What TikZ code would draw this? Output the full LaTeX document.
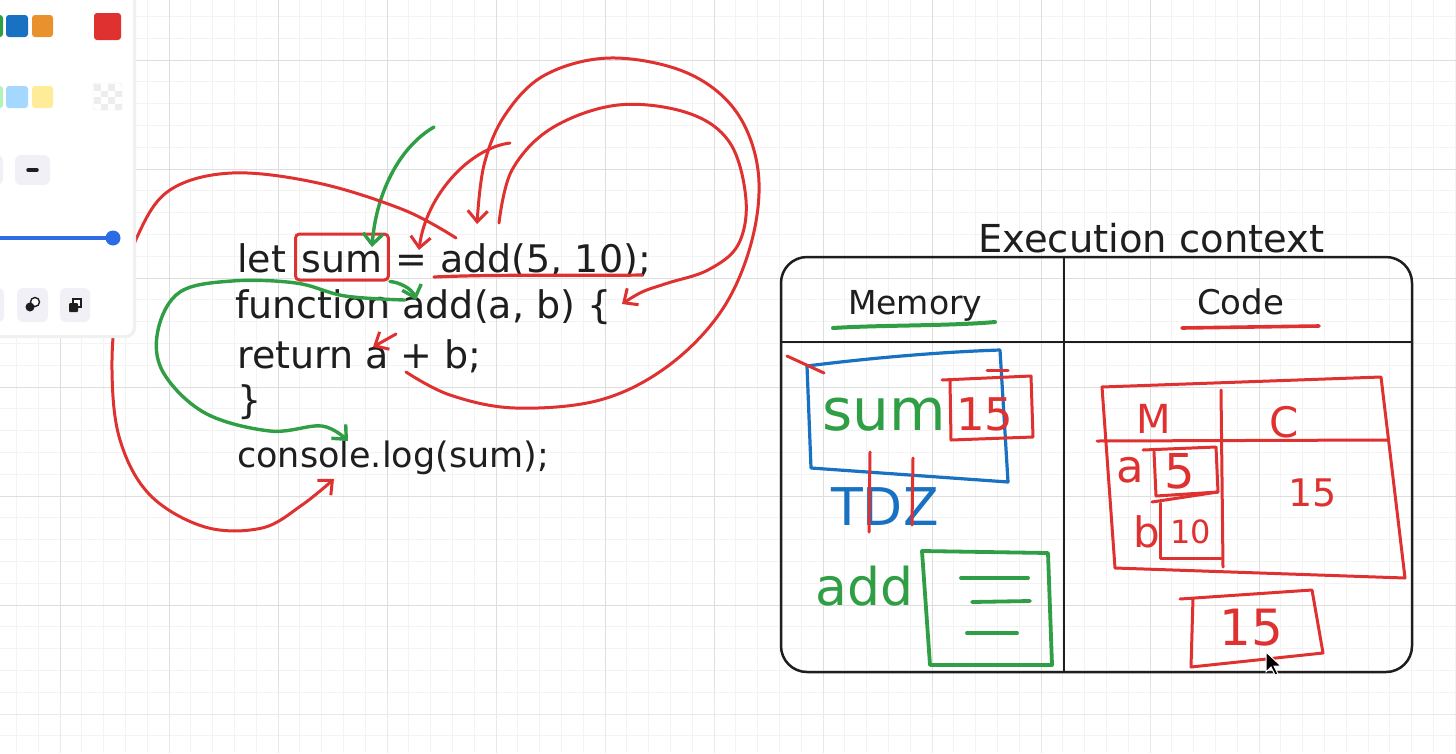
\documentclass[tikz,border=0pt]{standalone}
\usepackage{fontspec}
\setmainfont{DejaVu Sans}
\usetikzlibrary{arrows.meta,positioning}

\definecolor{exred}{HTML}{E03131}
\definecolor{exgreen}{HTML}{2F9E44}
\definecolor{exblue}{HTML}{1971C2}
\definecolor{ink}{HTML}{1E1E1E}
\definecolor{gridmajor}{HTML}{DEDEDE}
\definecolor{gridminor}{HTML}{F3F3F3}
\definecolor{btnbg}{HTML}{F1F0F6}
\definecolor{slider}{HTML}{2B6CE4}
\definecolor{sworange}{HTML}{E8912D}
\definecolor{swlgreen}{HTML}{B2F2BB}
\definecolor{swlblue}{HTML}{A5D8FF}
\definecolor{swlyellow}{HTML}{FFEC99}
\newcommand{\fsz}[1]{\fontsize{#1}{#1}\selectfont}

\begin{document}
\begin{tikzpicture}[x=1pt, y=-1pt,
    codeline/.style={anchor=base west, inner sep=0pt, text=ink, font=\fsz{38}},
    scrawl/.style={anchor=base west, inner sep=0pt},
    redpen/.style={draw=exred, line width=3pt, line cap=round, line join=round},
    grnpen/.style={draw=exgreen, line width=3.4pt, line cap=round, line join=round},
    blupen/.style={draw=exblue, line width=3.2pt, line cap=round, line join=round},
    headed/.style={-{Straight Barb[length=11pt,width=20pt]}},
    swatch/.style={rounded corners=3pt},
    btn/.style={fill=btnbg, rounded corners=6pt}]

  \useasboundingbox (0,0) rectangle (1456,753);
  \fill[white] (0,0) rectangle (1456,753);
  \foreach \k in {0,...,69}
    \draw[gridminor, line width=0.8pt] ({-49+21.8*\k},0) -- ({-49+21.8*\k},753);
  \foreach \k in {0,...,37}
    \draw[gridminor, line width=0.8pt] (0,{-49+21.8*\k}) -- (1456,{-49+21.8*\k});
  \foreach \k in {1,...,12}
    \draw[gridmajor, line width=1pt] ({-49+109*\k},0) -- ({-49+109*\k},753);
  \foreach \k in {1,...,7}
    \draw[gridmajor, line width=1pt] (0,{-49+109*\k}) -- (1456,{-49+109*\k});

  % the code
  \node[codeline] (let1) at (237,272) {let};
  \node[codeline, draw=exred, line width=3pt, rounded corners=4pt, inner xsep=6pt,
        inner ysep=8pt, text height=30pt, text depth=0pt] (sumvar) at (294,272) {sum};
  \node[codeline] (eq1) at (395,272) {=};
  \node[codeline] (call1) at (440,272) {add(5, 10);};
  \node[codeline] (fnline) at (235,318) {function add(a, b) \{};
  \node[codeline] (retline) at (237,368) {return a + b;};
  \node[codeline] (closebr) at (237,413) {\}};
  \node[codeline, font=\fsz{35}] (logline) at (237,467) {console.log(sum);};
  \draw[redpen, line width=3.2pt] (434,277) .. controls (500,274) and (580,276) .. (642,275);

  \coordinate (gTop) at (434,127);
  \coordinate (sumHit) at (372,247);
  \coordinate (rTop) at (510,143);
  \coordinate (eqHit) at (419,250);
  \coordinate (retFrom) at (406,372);
  \coordinate (callHit) at (477,224);
  \coordinate (callFrom) at (499,223);
  \coordinate (braceHit) at (622,304);
  \coordinate (callLeft) at (456,238);
  \coordinate (logHit) at (334,479);
  \coordinate (addHit) at (416,300);
  \coordinate (loopFrom) at (405,300);
  \coordinate (logTop) at (348,441);
  \coordinate (aFrom) at (396,334);
  \coordinate (aHit) at (373,347);

  \draw[grnpen, headed] (gTop) .. controls (398,148) and (376,195) .. (sumHit);
  \draw[redpen, headed] (rTop) .. controls (470,148) and (426,195) .. (eqHit);
  \draw[redpen, headed] plot[smooth, tension=0.6] coordinates {(retFrom) (450,395) (515,408)
    (600,400) (668,366) (722,310) (752,240) (758,170) (735,110) (685,72) (610,58) (545,75)
    (505,115) (484,165) (callHit)};
  \draw[redpen, headed] plot[smooth, tension=0.6] coordinates {(callFrom) (512,170) (552,128)
    (618,105) (688,113) (730,143) (746,200) (738,245) (708,270) (668,283) (642,292) (braceHit)};
  \draw[redpen, headed] plot[smooth, tension=0.6] coordinates {(callLeft) (404,210) (318,183)
    (232,173) (170,190) (138,235) (118,300) (112,370) (120,440) (150,495) (205,527) (262,528)
    (302,505) (logHit)};
  \draw[grnpen, headed] (sumvar.south east) .. controls (398,282) and (412,288) .. (addHit);
  \draw[grnpen, headed] plot[smooth, tension=0.6] coordinates {(loopFrom) (345,296) (296,283)
    (232,281) (180,292) (158,330) (163,372) (205,413) (270,431) (322,426) (logTop)};
  \draw[redpen, headed] (aFrom) -- (aHit);

  % tool panel
  \fill[black!6, rounded corners=10pt] (-20,-20) rectangle (136,338);
  \fill[white, rounded corners=8pt] (-20,-20) rectangle (133,335);
  \fill[exgreen, swatch] (-20,15) rectangle (3,37);
  \fill[exblue, swatch] (6,15) rectangle (28,37);
  \fill[sworange, swatch] (32,15) rectangle (53,37);
  \fill[exred, swatch] (94,13) rectangle (121,40);
  \fill[swlgreen, swatch] (-20,86) rectangle (3,108);
  \fill[swlblue, swatch] (6,86) rectangle (28,108);
  \fill[swlyellow, swatch] (32,86) rectangle (53,108);
  \fill[white, draw=black!8, swatch] (93,83) rectangle (122,110);
  \foreach \i/\j in {0/0,2/0,1/1,3/1,0/2,2/2,1/3,3/3}
    \fill[black!7] ({94+7*\i},{84+6.5*\j}) rectangle ++(7,6.5);
  \fill[btn] (-20,155) rectangle (3,185);
  \fill[btn] (15,155) rectangle (50,185);
  \draw[ink, line width=3.5pt, line cap=round] (28,170) -- (37,170);
  \draw[slider, line width=4pt] (-5,238) -- (113,238);
  \fill[slider] (113,238) circle[radius=7.5pt];
  \fill[btn] (-20,288) rectangle (4,322);
  \fill[btn] (17,288) rectangle (48,322);
  \fill[btn] (60,288) rectangle (90,322);
  \draw[ink, line width=1.4pt, fill=white] (35,302) circle[radius=4.5pt];
  \fill[ink] (30,307) circle[radius=4.5pt];
  \draw[ink, line width=1.4pt, fill=white] (73,299) rectangle (81,307);
  \fill[ink, rounded corners=1pt] (69,303) rectangle (78,312);

  % execution context
  \node[scrawl, font=\fsz{38.5}, text=ink] (ectitle) at (978,252) {Execution context};
  \node[draw=ink, line width=2.5pt, rounded corners=26pt, minimum width=631pt,
        minimum height=415pt, inner sep=0pt] (ctx) at (1096.5,464.5) {};
  \draw[ink, line width=2.5pt] ([xshift=-32.5pt]ctx.north) -- ([xshift=-32.5pt]ctx.south);
  \draw[ink, line width=2.5pt] ([yshift=-86pt]ctx.north west) -- ([yshift=-86pt]ctx.north east);

  \node[scrawl, font=\fsz{33}, text=ink] (memhead) at (848,314) {Memory};
  \draw[grnpen, line width=4pt] (833,328) .. controls (880,325) and (950,326) .. (995,322);
  \node[scrawl, font=\fsz{34}, text=ink] (codehead) at (1197,314) {Code};
  \draw[redpen, line width=3.6pt] (1182,328) -- (1319,326);

  \draw[blupen] (807,366) .. controls (870,358) and (940,352) .. (1000,350) -- (1008,482)
    -- (811,468) -- cycle;
  \draw[redpen] (787,356) -- (824,373);
  \node[scrawl, font=\fsz{58}, text=exgreen] (memsum) at (822,430) {sum};
  \draw[redpen] (942,380) -- (1031,376) -- (1033,437) -- (951,440) -- (950,380);
  \draw[redpen] (987,370) -- (1008,370);
  \node[scrawl, font=\fsz{45}, text=exred] (sumval) at (956,430) {15};
  \node[scrawl, font=\fsz{52}, text=exblue] (tdz) at (831,525) {TDZ};
  \draw[redpen] (870,452) -- (869,532);
  \draw[redpen] (913,458) -- (912,525);
  \node[scrawl, font=\fsz{52}, text=exgreen] (memadd) at (815,605) {add};
  \draw[grnpen, line width=3.8pt] (922,551) -- (1048,553) -- (1052,665) -- (930,665) -- cycle;
  \draw[grnpen, line width=3.8pt] (961,578) -- (1028,578);
  \draw[grnpen, line width=3.8pt] (972,602) -- (1030,601);
  \draw[grnpen, line width=3.8pt] (967,633) -- (1017,633);

  \draw[redpen] (1102,387) -- (1381,377) -- (1405,578) -- (1115,568) -- cycle;
  \draw[redpen] (1097,441) -- (1388,440);
  \draw[redpen] (1221,390) -- (1223,567);
  \node[scrawl, font=\fsz{40}, text=exred] (mhead) at (1136,433) {M};
  \node[scrawl, font=\fsz{42}, text=exred] (chead) at (1269,437) {C};
  \node[scrawl, font=\fsz{45}, text=exred] (avar) at (1116,482) {a};
  \draw[redpen] (1143,450) -- (1216,447) -- (1218,492) -- (1156,496) -- (1154,452);
  \node[scrawl, font=\fsz{48}, text=exred] (aval) at (1164,488) {5};
  \node[scrawl, font=\fsz{42}, text=exred] (bvar) at (1133,547) {b};
  \draw[redpen] (1152,502) -- (1218,492);
  \draw[redpen] (1160,503) -- (1160,558) -- (1221,558);
  \node[scrawl, font=\fsz{32}, text=exred] (bval) at (1170,543) {10};
  \node[scrawl, font=\fsz{38}, text=exred] (retval) at (1288,506) {15};
  \draw[redpen] (1180,599) -- (1312,590) -- (1323,653) -- (1191,667) -- (1193,598);
  \node[scrawl, font=\fsz{50}, text=exred] (outval) at (1219,645) {15};
  \filldraw[fill=black, draw=white, line width=1pt] (1266,652) -- (1266,672) -- (1271,667)
    -- (1275,675) -- (1278,674) -- (1274,666) -- (1281,666) -- cycle;

  \foreach \k in {0,...,7}
    \fill[white, opacity=0.07] (0,{678+4*\k}) rectangle (1456,753);
\end{tikzpicture}
\end{document}
